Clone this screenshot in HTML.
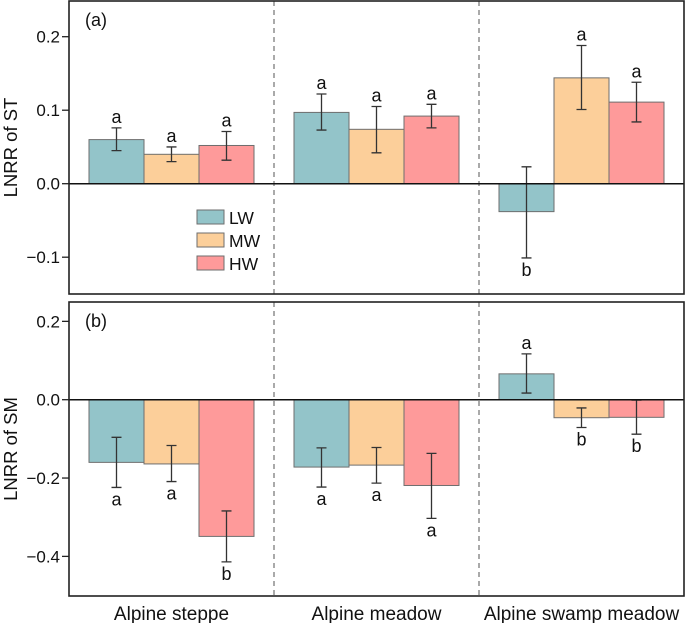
<!DOCTYPE html>
<html><head><meta charset="utf-8"><style>
body{margin:0;background:#fff}
svg{display:block;font-family:"Liberation Sans",Arial,sans-serif}
</style></head><body>
<svg id="chart" width="685" height="623" viewBox="0 0 685 623" xmlns="http://www.w3.org/2000/svg"></svg>
<script>
const categories = ["Alpine steppe","Alpine meadow","Alpine swamp meadow"];
const series = ["LW","MW","HW"];
const colors = ["#93c4c9","#fccf9a","#fe9a9a"];
// panel (a) LNRR of ST
const stMean = [[0.060,0.040,0.052],[0.097,0.074,0.092],[-0.038,0.144,0.111]];
const stHi   = [[0.076,0.050,0.071],[0.122,0.105,0.108],[0.023,0.188,0.138]];
const stLo   = [[0.045,0.030,0.032],[0.073,0.042,0.076],[-0.101,0.101,0.084]];
const stLetters = [["a","a","a"],["a","a","a"],["b","a","a"]];
const stTicks = [0.2,0.1,0.0,-0.1];
const stTickLabels = ["0.2","0.1","0.0","\u22120.1"];
// panel (b) LNRR of SM
const smMean = [[-0.160,-0.164,-0.349],[-0.172,-0.167,-0.219],[0.066,-0.046,-0.045]];
const smHi   = [[-0.096,-0.117,-0.284],[-0.123,-0.122,-0.137],[0.117,-0.021,-0.001]];
const smLo   = [[-0.224,-0.209,-0.414],[-0.223,-0.213,-0.303],[0.017,-0.071,-0.088]];
const smLetters = [["a","a","b"],["a","a","a"],["a","b","b"]];
const smTicks = [0.2,0.0,-0.2,-0.4];
const smTickLabels = ["0.2","0.0","\u22120.2","\u22120.4"];

const svg = document.getElementById('chart');
const NS = "http://www.w3.org/2000/svg";
function mk(tag, attrs, parent){const e=document.createElementNS(NS,tag);for(const k in attrs)e.setAttribute(k,attrs[k]);(parent||svg).appendChild(e);return e;}
const L=69,R=684,groupW=205,barW=55,offset=20;
function xBar(g,s){return L+g*groupW+offset+s*barW;}

function panel(top,bottom,y0,pxPerUnit,mean,hi,lo,letters,ticks,tickLabels,title,tag,name){
  const y=v=>y0-v*pxPerUnit;
  const grp=mk('g',{});
  
  
  for(let g=1;g<categories.length;g++){
    const d=mk('line',{x1:L+g*groupW,x2:L+g*groupW,y1:top,y2:bottom,stroke:'#555','stroke-width':1,'stroke-dasharray':'5,4'},grp);
    
    
  }
  for(let g=0;g<categories.length;g++){
    for(let s=0;s<series.length;s++){
      const v=mean[g][s];
      const x=xBar(g,s);
      const b=mk('rect',{x:x,y:Math.min(y(v),y0),width:barW,height:Math.abs(y(v)-y0),fill:colors[s],stroke:'#6e6e6e','stroke-width':1},grp);
      
      
      const cx=x+barW/2, yh=y(hi[g][s]), yl=y(lo[g][s]);
      const eb=mk('path',{d:`M${cx},${yh}V${yl}M${cx-5},${yh}H${cx+5}M${cx-5},${yl}H${cx+5}`,stroke:'#333','stroke-width':1.3,fill:'none'},grp);
      
      
      const above = v>=0;
      const t=mk('text',{x:cx,y:above?yh-5:yl+18,'text-anchor':'middle','font-size':18,fill:'#111'},grp);
      t.textContent=letters[g][s];
      
      
    }
  }
  const z=mk('line',{x1:L,x2:R,y1:y0,y2:y0,stroke:'#111','stroke-width':1.5},grp);
  
  
  const f=mk('rect',{x:L,y:top,width:R-L,height:bottom-top,fill:'none',stroke:'#222','stroke-width':1.6},grp);
  
  
  ticks.forEach((tv,i)=>{
    const tk=mk('line',{x1:L-7,x2:L,y1:y(tv),y2:y(tv),stroke:'#222','stroke-width':1.3},grp);
    
    
    const tl=mk('text',{x:L-9,y:y(tv)+6,'text-anchor':'end','font-size':17,fill:'#111'},grp);
    tl.textContent=tickLabels[i];
    
    
  });
  const yt=mk('text',{x:0,y:0,transform:`translate(17,${(top+bottom)/2}) rotate(-90)`,'text-anchor':'middle','font-size':18.5,fill:'#111'},grp);
  yt.textContent=title;
  
  
  const pl=mk('text',{x:85,y:top+25,'font-size':18,fill:'#111'},grp);
  pl.textContent=tag;
  
  
}
panel(1,294,183.7,735,stMean,stHi,stLo,stLetters,stTicks,stTickLabels,"LNRR of ST","(a)","panel-a");
panel(302,596,399.7,391.7,smMean,smHi,smLo,smLetters,smTicks,smTickLabels,"LNRR of SM","(b)","panel-b");

series.forEach((s,i)=>{
  const yy=210+i*23;
  const r=mk('rect',{x:197,y:yy,width:27,height:14,fill:colors[i],stroke:'#6e6e6e','stroke-width':1});
  
  
  const t=mk('text',{x:229,y:yy+14,'font-size':17.5,fill:'#111'});
  t.textContent=s;
  
  
});
categories.forEach((c,g)=>{
  const t=mk('text',{x:L+g*groupW+groupW/2,y:620,'text-anchor':'middle','font-size':19,fill:'#111'});
  t.textContent=c;
  
  
});
</script>
</body></html>
